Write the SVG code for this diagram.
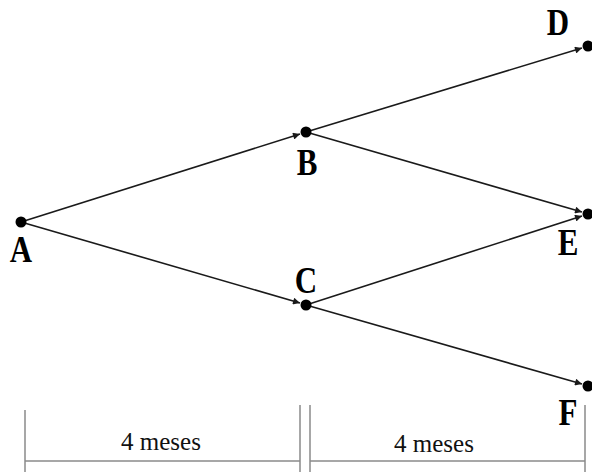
<svg xmlns="http://www.w3.org/2000/svg" width="592" height="472" viewBox="0 0 592 472">
<style>
.edge{stroke:#1a1a1a;stroke-width:1.6;fill:none;marker-end:url(#ah)}
.dot{fill:#000}
.lbl{font-family:"Liberation Serif","Times New Roman",serif;font-weight:bold;font-size:31px;fill:#000;text-anchor:middle}
.rule{stroke:#8a8a8a;stroke-width:1.5;fill:none}
.dur{font-family:"Liberation Serif","Times New Roman",serif;font-size:25px;fill:#111;text-anchor:middle}
</style>
<defs>
<marker id="ah" viewBox="0 0 10 10" refX="10" refY="5" markerWidth="9" markerHeight="7" markerUnits="userSpaceOnUse" orient="auto">
<path d="M0,0 L10,5 L0,10 z" fill="#1a1a1a"/>
</marker>
</defs>
<rect width="592" height="472" fill="#fff"/>
<g id="connectors">
<line class="edge" x1="21" y1="222" x2="300" y2="134"/>
<line class="edge" x1="21" y1="222" x2="300" y2="303"/>
<line class="edge" x1="306" y1="132" x2="582" y2="48"/>
<line class="edge" x1="306" y1="132" x2="582" y2="212"/>
<line class="edge" x1="306" y1="305" x2="582" y2="216"/>
<line class="edge" x1="306" y1="305" x2="582" y2="384"/>
</g>
<g id="A"><circle class="dot" cx="21" cy="222" r="5.5"/><text class="lbl" transform="translate(21,262) scale(1,1.2)">A</text></g>
<g id="B"><circle class="dot" cx="306" cy="132" r="5.5"/><text class="lbl" transform="translate(307,175) scale(1,1.2)">B</text></g>
<g id="C"><circle class="dot" cx="306" cy="305" r="5.5"/><text class="lbl" transform="translate(306,293) scale(1,1.2)">C</text></g>
<g id="D"><circle class="dot" cx="588" cy="46" r="5.5"/><text class="lbl" transform="translate(558,35) scale(1,1.2)">D</text></g>
<g id="E"><circle class="dot" cx="588" cy="214" r="5.5"/><text class="lbl" transform="translate(568,255) scale(1,1.2)">E</text></g>
<g id="F"><circle class="dot" cx="588" cy="386" r="5.5"/><text class="lbl" transform="translate(568,425) scale(1,1.2)">F</text></g>
<g id="timeline">
<line class="rule" x1="25" y1="410" x2="25" y2="472"/>
<line class="rule" x1="300" y1="405" x2="300" y2="472"/>
<line class="rule" x1="310" y1="405" x2="310" y2="472"/>
<line class="rule" x1="585" y1="405" x2="585" y2="472"/>
<line class="rule" x1="25" y1="461" x2="300" y2="461"/>
<line class="rule" x1="310" y1="461" x2="585" y2="461"/>
<text class="dur" x="161" y="450">4 meses</text>
<text class="dur" x="434" y="452">4 meses</text>
</g>
</svg>
